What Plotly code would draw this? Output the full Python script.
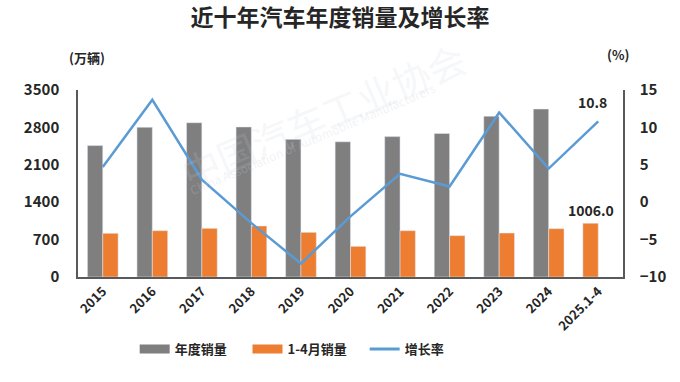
import plotly.graph_objects as go

categories = ["2015", "2016", "2017", "2018", "2019", "2020", "2021", "2022", "2023", "2024", "2025.1-4"]
annual_sales = [2459.8, 2802.8, 2887.9, 2808.1, 2576.9, 2531.1, 2627.5, 2686.4, 3009.4, 3143.6, None]
jan_apr_sales = [818, 867, 911, 955, 836, 574, 867, 774, 823, 905, 1006.0]
growth_rate = [4.7, 13.7, 3.0, -2.8, -8.2, -1.9, 3.8, 2.1, 12.0, 4.5, 10.8]
left_ticks = [0, 700, 1400, 2100, 2800, 3500]
right_ticks = [-10, -5, 0, 5, 10, 15]

FONT = "Noto Sans CJK SC"
DARK = "#262626"
GRAY = "#7f7f7f"
ORANGE = "#ed7d31"
BLUE = "#5b9bd5"
BW = 0.31
orange_offsets = [0] * (len(categories) - 1) + [-BW]

fig = go.Figure()
fig.add_trace(go.Bar(x=categories, y=annual_sales, name="年度销量", marker_color=GRAY,
                     width=BW, offset=-BW, showlegend=False))
fig.add_trace(go.Bar(x=categories, y=jan_apr_sales, name="1-4月销量", marker_color=ORANGE,
                     width=BW, offset=orange_offsets, showlegend=False))
fig.add_trace(go.Scatter(x=categories, y=growth_rate, name="增长率", mode="lines",
                         line=dict(color=BLUE, width=2.5), yaxis="y2", showlegend=False))
# legend swatches
fig.add_trace(go.Scatter(x=[None], y=[None], name="年度销量", mode="lines",
                         line=dict(color=GRAY, width=9), legend="legend"))
fig.add_trace(go.Scatter(x=[None], y=[None], name="1-4月销量", mode="lines",
                         line=dict(color=ORANGE, width=9), legend="legend2"))
fig.add_trace(go.Scatter(x=[None], y=[None], name="增长率", mode="lines",
                         line=dict(color=BLUE, width=3), legend="legend3"))

# watermark
fig.add_annotation(text="中国汽车工业协会", xref="paper", yref="paper", x=0.45, y=0.87,
                   xanchor="center", yanchor="middle", showarrow=False, textangle=-23,
                   font=dict(family=FONT, size=38, color="rgba(200,205,215,0.18)"))
fig.add_annotation(text="China Association of Automobile Manufacturers", xref="paper", yref="paper",
                   x=0.43, y=0.74, xanchor="center", yanchor="middle", showarrow=False, textangle=-23,
                   font=dict(family=FONT, size=12, color="rgba(200,205,215,0.25)"))

fig.add_annotation(x=categories[-1], y=growth_rate[-1], yref="y2", text="<b>10.8</b>", showarrow=False,
                   yshift=19, xshift=-6, font=dict(family=FONT, size=14, color=DARK))
fig.add_annotation(x=categories[-1], y=jan_apr_sales[-1], text="<b>1006.0</b>", showarrow=False,
                   yshift=13, xshift=-7, font=dict(family=FONT, size=14, color=DARK))

legend_style = dict(orientation="h", xanchor="left", y=-0.305, yanchor="top",
                    font=dict(family=FONT, size=13, color=DARK, weight="bold"), itemwidth=30,
                    bgcolor="rgba(0,0,0,0)")

fig.update_layout(
    width=680, height=382,
    margin=dict(l=78, r=57, t=90, b=105),
    paper_bgcolor="white", plot_bgcolor="white",
    title=dict(text="<b>近十年汽车年度销量及增长率</b>", x=0.5, xanchor="center", y=0.953, yanchor="middle",
               font=dict(family=FONT, size=23, color=DARK)),
    font=dict(family=FONT, color=DARK),
    barmode="overlay",
    xaxis=dict(showline=True, linecolor="#595959", linewidth=1.5, tickangle=-45,
               tickfont=dict(family=FONT, size=13, color=DARK, weight="bold"), ticks="", showgrid=False),
    yaxis=dict(range=[0, 3500], tickvals=left_ticks, showline=True, linecolor="#595959", linewidth=1.5,
               showgrid=False, zeroline=False, ticks="", ticklabelstandoff=14,
               tickfont=dict(family=FONT, size=15, color=DARK, weight="bold")),
    yaxis2=dict(range=[-10, 15], tickvals=right_ticks, overlaying="y", side="right", showline=True,
                linecolor="#595959", linewidth=1.5, showgrid=False, zeroline=False, ticks="",
                ticklabelstandoff=12,
                tickfont=dict(family=FONT, size=15, color=DARK, weight="bold")),
    legend=dict(x=0.104, **legend_style),
    legend2=dict(x=0.311, **legend_style),
    legend3=dict(x=0.526, **legend_style),
    showlegend=True,
)
fig.add_annotation(text="<b>(万辆)</b>", xref="paper", yref="paper", x=0.017, y=1.176, xanchor="center",
                   yanchor="middle", showarrow=False, font=dict(family=FONT, size=13, color=DARK))
fig.add_annotation(text="<b>(%)</b>", xref="paper", yref="paper", x=0.99, y=1.19, xanchor="center",
                   yanchor="middle", showarrow=False, font=dict(family=FONT, size=13, color=DARK))

fig.write_html("out.html", config={"displayModeBar": False},
               post_script="document.body.style.margin='0';")
